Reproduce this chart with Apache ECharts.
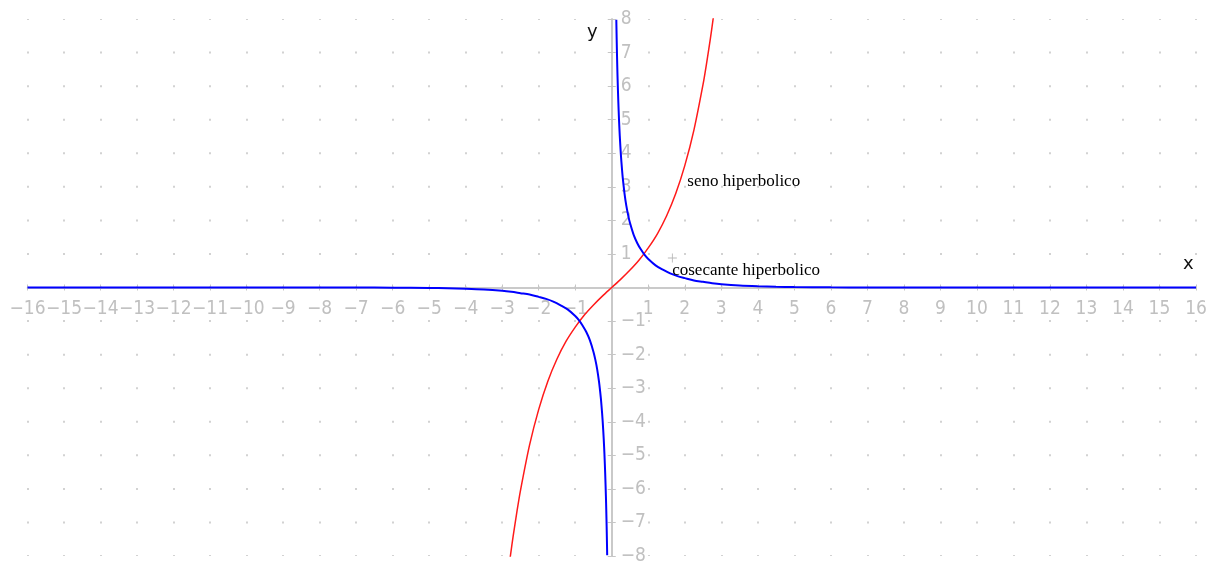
<!DOCTYPE html>
<html>
<head>
<meta charset="utf-8">
<title>seno e cosecante iperbolico</title>
<script src="https://cdn.jsdelivr.net/npm/echarts@6/dist/echarts.min.js"></script>
<style>
  html, body { margin: 0; padding: 0; background: #ffffff; }
  #chart { width: 1217px; height: 563px; }
</style>
</head>
<body>
<div id="chart"></div>
<script>
// Axis ranges and tick spacing
const xRange = [-16, 16];
const yRange = [-8, 8];
const tickStep = 1;

// seno hiperbolico
const sinhX = [-2.78, -2.7, -2.6, -2.5, -2.25, -2.0, -1.75, -1.5, -1.25, -1.0, -0.75, -0.5, -0.25, 0,
               0.25, 0.5, 0.75, 1.0, 1.25, 1.5, 1.75, 2.0, 2.25, 2.5, 2.6, 2.7, 2.78];
const sinhY = [-8.03, -7.41, -6.70, -6.05, -4.69, -3.63, -2.79, -2.13, -1.60, -1.18, -0.82, -0.52, -0.25, 0,
               0.25, 0.52, 0.82, 1.18, 1.60, 2.13, 2.79, 3.63, 4.69, 6.05, 6.70, 7.41, 8.03];

// cosecante hiperbolico, x > 0 branch
const cschRightX = [0.125, 0.13, 0.14, 0.15, 0.16, 0.18, 0.2, 0.22, 0.25, 0.28, 0.3, 0.35, 0.4, 0.45, 0.5,
                    0.6, 0.7, 0.8, 0.9, 1.0, 1.2, 1.4, 1.6, 1.8, 2.0, 2.25, 2.5, 2.75, 3.0, 3.5, 4.0, 4.5,
                    5, 6, 7, 8, 10, 12, 16];
const cschRightY = [7.98, 7.67, 7.12, 6.64, 6.22, 5.53, 4.97, 4.51, 3.96, 3.53, 3.28, 2.80, 2.43, 2.15, 1.92,
                    1.57, 1.32, 1.13, 0.97, 0.85, 0.66, 0.53, 0.42, 0.34, 0.28, 0.21, 0.17, 0.13, 0.10, 0.06, 0.037, 0.022,
                    0.013, 0.005, 0.002, 0.0007, 0.0001, 0, 0];

// cosecante hiperbolico, x < 0 branch
const cschLeftX = [-16, -12, -10, -8, -7, -6, -5, -4.5, -4.0, -3.5, -3.0, -2.75, -2.5, -2.25, -2.0, -1.8,
                   -1.6, -1.4, -1.2, -1.0, -0.9, -0.8, -0.7, -0.6, -0.5, -0.45, -0.4, -0.35, -0.3, -0.28,
                   -0.25, -0.22, -0.2, -0.18, -0.16, -0.15, -0.14, -0.13, -0.125];
const cschLeftY = [0, 0, -0.0001, -0.0007, -0.002, -0.005, -0.013, -0.022, -0.037, -0.06, -0.10, -0.13, -0.17, -0.21, -0.28, -0.34,
                   -0.42, -0.53, -0.66, -0.85, -0.97, -1.13, -1.32, -1.57, -1.92, -2.15, -2.43, -2.80, -3.28, -3.53,
                   -3.96, -4.51, -4.97, -5.53, -6.22, -6.64, -7.12, -7.67, -7.98];

// Curve captions, axis names and the small cross marker
const captionSinh = 'seno hiperbolico';
const captionCsch = 'cosecante hiperbolico';
const axisNames = ['x', 'y'];
const crossPoint = [[1.66, 0.88]];

const zip = (xs, ys) => xs.map((x, i) => [x, ys[i]]);

const W = 1217, H = 563;
const grid = { left: 27.5, right: 21, top: 19, bottom: 7 };
const gridW = W - grid.left - grid.right;
const gridH = H - grid.top - grid.bottom;
const rowStep = gridH / (yRange[1] - yRange[0]);
// shift the edge axes onto the origin lines
const xAxisShift = -gridH * (0 - yRange[0]) / (yRange[1] - yRange[0]);
const yAxisShift = -gridW * (xRange[1] - 0) / (xRange[1] - xRange[0]);

const axisGray = '#c6c6c6';
const labelGray = '#c0c0c0';
const tickFont = '"DejaVu Sans Condensed", "Liberation Sans Narrow", "DejaVu Sans", sans-serif';
const fmt = v => (v === 0 ? '' : String(v).replace('-', '\u2212'));

const chart = echarts.init(document.getElementById('chart'), null, { renderer: 'canvas' });

function xAxisDef(pos, withLabels) {
  return {
    type: 'value', min: xRange[0], max: xRange[1], interval: tickStep,
    position: pos, offset: xAxisShift,
    axisLine: { onZero: false, lineStyle: { color: axisGray, width: 1.5 } },
    axisTick: { show: true, length: 3, lineStyle: { color: axisGray } },
    axisLabel: withLabels
      ? { formatter: fmt, color: labelGray, fontFamily: tickFont, fontSize: 19, margin: 12 }
      : { show: false },
    splitLine: withLabels
      ? { show: true, lineStyle: { color: '#d2d2d2', width: 2, type: [2, rowStep - 2], dashOffset: 1 } }
      : { show: false }
  };
}

function yAxisDef(pos, withLabels) {
  return {
    type: 'value', min: yRange[0], max: yRange[1], interval: tickStep,
    position: pos, offset: yAxisShift,
    axisLine: { onZero: false, lineStyle: { color: axisGray, width: 1.5 } },
    axisTick: { show: true, length: 4, lineStyle: { color: axisGray } },
    axisLabel: withLabels
      ? { formatter: fmt, color: labelGray, fontFamily: tickFont, fontSize: 19, margin: 9 }
      : { show: false },
    splitLine: { show: false }
  };
}

const captionLabel = {
  show: true, position: 'right', distance: 0, formatter: '{c}',
  color: '#000', fontFamily: 'Liberation Serif', fontSize: 17
};

const option = {
  animation: false,
  backgroundColor: '#ffffff',
  grid: Object.assign({ outerBoundsMode: 'none', containLabel: false }, grid),
  xAxis: [xAxisDef('bottom', true), xAxisDef('top', false)],
  yAxis: [yAxisDef('left', false), yAxisDef('right', true)],
  series: [
    {
      name: captionSinh, type: 'line', xAxisIndex: 0, yAxisIndex: 0,
      data: zip(sinhX, sinhY), smooth: 0.3, showSymbol: false, z: 3,
      lineStyle: { color: '#ff1a1a', width: 1.5 },
      markPoint: {
        symbol: 'circle', symbolSize: 0,
        data: [{ coord: [2.07, 3.17], value: captionSinh }],
        label: captionLabel
      }
    },
    {
      name: captionCsch, type: 'line', xAxisIndex: 0, yAxisIndex: 0,
      data: zip(cschRightX, cschRightY), smooth: 0.3, showSymbol: false, z: 4,
      lineStyle: { color: '#0000ff', width: 2 },
      markPoint: {
        symbol: 'circle', symbolSize: 0,
        data: [{ coord: [1.655, 0.52], value: captionCsch }],
        label: captionLabel
      }
    },
    {
      name: captionCsch, type: 'line', xAxisIndex: 0, yAxisIndex: 0,
      data: zip(cschLeftX, cschLeftY), smooth: 0.3, showSymbol: false, z: 4,
      lineStyle: { color: '#0000ff', width: 2 }
    },
    {
      name: 'marker', type: 'scatter', xAxisIndex: 0, yAxisIndex: 0,
      data: crossPoint, z: 5, silent: true,
      symbol: 'path://M4.5,0h1v4.5h4.5v1h-4.5v4.5h-1v-4.5h-4.5v-1h4.5z',
      symbolSize: 9,
      itemStyle: { color: '#a8a8a8' }
    }
  ]
};

chart.setOption(option);

// axis names, placed in data space near the ends of each axis
const xNamePos = chart.convertToPixel({ gridIndex: 0 }, [15.79, 0.70]);
const yNamePos = chart.convertToPixel({ gridIndex: 0 }, [-0.53, 7.61]);
const nameStyle = { fill: '#111', font: '18px "DejaVu Sans"', textAlign: 'center', textVerticalAlign: 'middle' };
chart.setOption({
  graphic: [
    { type: 'text', x: xNamePos[0], y: xNamePos[1], style: Object.assign({ text: axisNames[0] }, nameStyle) },
    { type: 'text', x: yNamePos[0], y: yNamePos[1], style: Object.assign({ text: axisNames[1] }, nameStyle) }
  ]
});
</script>
</body>
</html>
